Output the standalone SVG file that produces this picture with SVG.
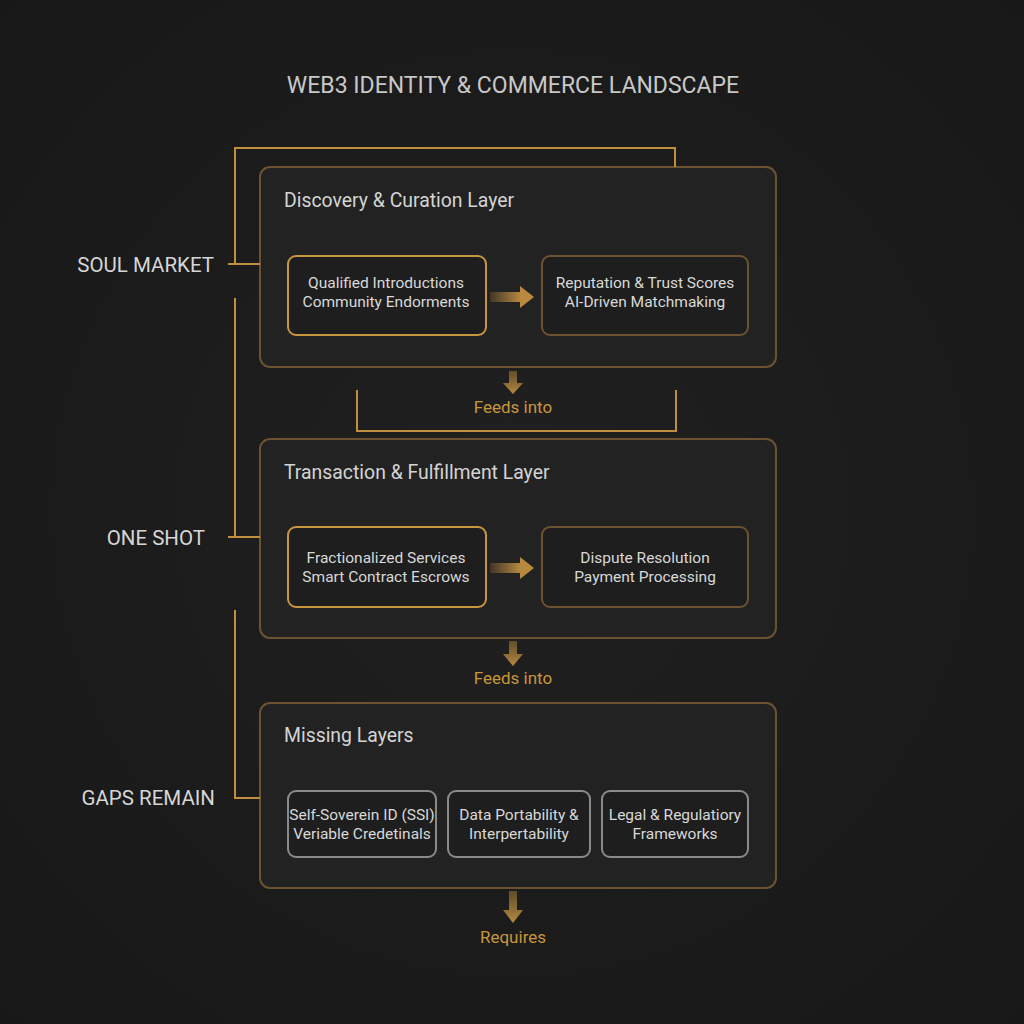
<svg xmlns="http://www.w3.org/2000/svg" width="1024" height="1024" viewBox="0 0 1024 1024">
<defs>
<radialGradient id="bg" cx="50%" cy="50%" r="70%">
<stop offset="0" stop-color="#202020"/>
<stop offset="1" stop-color="#181818"/>
</radialGradient>
<linearGradient id="shaft" x1="0" y1="0" x2="1" y2="0">
<stop offset="0" stop-color="#b8893f" stop-opacity="0.2"/>
<stop offset="1" stop-color="#b8893f"/>
</linearGradient>
<linearGradient id="dg" x1="0" y1="0" x2="0" y2="1">
<stop offset="0" stop-color="#a67c3a" stop-opacity="0.5"/>
<stop offset="1" stop-color="#b8893f"/>
</linearGradient>
<style>
.panel{fill:#222222;stroke:#6b5230;stroke-width:2}
.hot{fill:#1e1e1e;stroke:#c8963e;stroke-width:2}
.cold{fill:#1e1e1e;stroke:#6b5230;stroke-width:2}
.gap{fill:#1e1e1e;stroke:#8a8a8a;stroke-width:2}
.ptitle{font-family:Roboto,"Liberation Sans",sans-serif;font-size:19.4px;fill:#d4d4d4}
.txt{font-family:Roboto,"Liberation Sans",sans-serif;font-size:15.5px;fill:#d8d8d8;text-anchor:middle}
.side{font-family:Roboto,"Liberation Sans",sans-serif;font-size:20.5px;fill:#d6d6d6;text-anchor:end}
.gold{font-family:Roboto,"Liberation Sans",sans-serif;font-size:17px;fill:#c8963e;text-anchor:middle}
.br{fill:none;stroke:#c08f3e;stroke-width:2}
</style>
</defs>
<rect width="1024" height="1024" fill="url(#bg)"/>
<text x="513" y="93" font-family="Roboto,'Liberation Sans',sans-serif" font-size="23" fill="#c8c8c8" text-anchor="middle">WEB3 IDENTITY &amp; COMMERCE LANDSCAPE</text>

<g id="soul-market"><text class="side" x="214" y="272">SOUL MARKET</text></g>
<g id="one-shot"><text class="side" x="205" y="545">ONE SHOT</text></g>
<g id="gaps-remain"><text class="side" x="215" y="805">GAPS REMAIN</text></g>

<g id="discovery-layer">
<rect class="panel" x="260" y="167" width="516" height="200" rx="10"/>
<text class="ptitle" x="284" y="207">Discovery &amp; Curation Layer</text>
</g>
<g id="qualified">
<rect class="hot" x="288" y="256" width="198" height="79" rx="8"/>
<text class="txt" x="386" y="288">Qualified Introductions</text>
<text class="txt" x="386" y="307">Community Endorments</text>
</g>
<g id="reputation">
<rect class="cold" x="542" y="256" width="206" height="79" rx="8"/>
<text class="txt" x="645" y="288">Reputation &amp; Trust Scores</text>
<text class="txt" x="645" y="307">AI-Driven Matchmaking</text>
</g>
<g id="feeds1"><text class="gold" x="513" y="413">Feeds into</text></g>

<g id="transaction-layer">
<rect class="panel" x="260" y="439" width="516" height="199" rx="10"/>
<text class="ptitle" x="284" y="479">Transaction &amp; Fulfillment Layer</text>
</g>
<g id="fractionalized">
<rect class="hot" x="288" y="527" width="198" height="80" rx="8"/>
<text class="txt" x="386" y="563">Fractionalized Services</text>
<text class="txt" x="386" y="582">Smart Contract Escrows</text>
</g>
<g id="dispute">
<rect class="cold" x="542" y="527" width="206" height="80" rx="8"/>
<text class="txt" x="645" y="563">Dispute Resolution</text>
<text class="txt" x="645" y="582">Payment Processing</text>
</g>
<g id="feeds2"><text class="gold" x="513" y="684">Feeds into</text></g>

<g id="missing-layers">
<rect class="panel" x="260" y="703" width="516" height="185" rx="10"/>
<text class="ptitle" x="284" y="742">Missing Layers</text>
</g>
<g id="ssi">
<rect class="gap" x="288" y="791" width="148" height="66" rx="8"/>
<text class="txt" x="362" y="820" font-size="14">Self-Soverein ID (SSI)</text>
<text class="txt" x="362" y="839" font-size="14">Veriable Credetinals</text>
</g>
<g id="portability">
<rect class="gap" x="448" y="791" width="142" height="66" rx="8"/>
<text class="txt" x="519" y="820" font-size="14">Data Portability &amp;</text>
<text class="txt" x="519" y="839" font-size="14">Interpertability</text>
</g>
<g id="legal">
<rect class="gap" x="602" y="791" width="146" height="66" rx="8"/>
<text class="txt" x="675" y="820" font-size="14">Legal &amp; Regulatiory</text>
<text class="txt" x="675" y="839" font-size="14">Frameworks</text>
</g>
<g id="requires"><text class="gold" x="513" y="943">Requires</text></g>

<g id="connectors">
<path class="br" d="M235 264 V148 H675 V167"/>
<path class="br" d="M228 264 H260"/>
<path class="br" d="M235 298 V537"/>
<path class="br" d="M228 537 H260"/>
<path class="br" d="M235 610 V798 H260"/>
<path class="br" d="M357 390 V431 H676 V390"/>
<rect x="490" y="292" width="31" height="10" fill="url(#shaft)"/>
<polygon points="520,286 534,297 520,308" fill="#b8893f"/>
<rect x="490" y="563" width="31" height="10" fill="url(#shaft)"/>
<polygon points="520,557 534,568 520,579" fill="#b8893f"/>
<path fill="url(#dg)" d="M509 371 V383 H503 L513 394 L523 383 H517 V371 Z"/>
<path fill="url(#dg)" d="M509 641 V654 H503 L513 666 L523 654 H517 V641 Z"/>
<path fill="url(#dg)" d="M509 891 V910 H503 L513 923 L523 910 H517 V891 Z"/>
</g>
</svg>
